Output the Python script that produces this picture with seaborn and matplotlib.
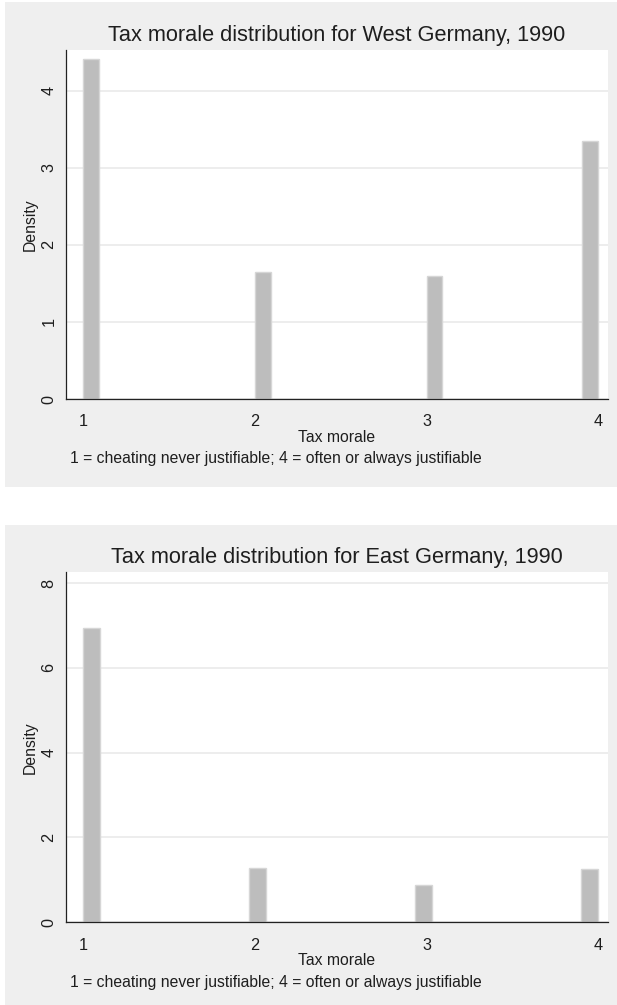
import numpy as np
import pandas as pd
import matplotlib
matplotlib.use("Agg")
import matplotlib.pyplot as plt
from matplotlib.patches import Rectangle
import seaborn as sns

# Tax morale scores (1 = never justifiable ... 4 = always justifiable)
scores = [1, 2, 3, 4]

# Histogram densities per score
west_density = [4.41, 1.65, 1.60, 3.35]
east_density = [6.95, 1.27, 0.87, 1.25]

# Histogram bin counts used for each sample
west_bins = 33
east_bins = 31

west_title = "Tax morale distribution for West Germany, 1990"
east_title = "Tax morale distribution for East Germany, 1990"
x_label = "Tax morale"
y_label = "Density"
note = "1 = cheating never justifiable; 4 = often or always justifiable"

west_yticks = [0, 1, 2, 3, 4]
east_yticks = [0, 2, 4, 6, 8]
xticks = [1, 2, 3, 4]

sns.set_style("white")
plt.rcParams["font.family"] = ["Liberation Sans", "DejaVu Sans"]

W, H = 617, 1005
fig = plt.figure(figsize=(W / 100, H / 100), dpi=100)
fig.patch.set_facecolor("white")

BG = "#efefef"
TXT = "#1e1e1e"
BAR_FACE = "#bdbdbd"
BAR_EDGE = "#d6d6d6"
GRID = "#ececec"


def fx(px):
    return px / W


def fy(py):
    return 1 - py / H


panels = [
    dict(title=west_title, dens=west_density, bins=west_bins, yticks=west_yticks,
         ylim=(0, 4.53), bg=(2, 487), plot=(50, 399)),
    dict(title=east_title, dens=east_density, bins=east_bins, yticks=east_yticks,
         ylim=(0, 8.25), bg=(525, 1005), plot=(572.5, 922.3)),
]

left_px, right_px = 66, 608

for p in panels:
    top_bg, bot_bg = p["bg"]
    fig.add_artist(Rectangle((fx(5), fy(bot_bg)), fx(W - 5), (bot_bg - top_bg) / H,
                             transform=fig.transFigure, facecolor=BG,
                             edgecolor="none", zorder=-5))
    ptop, pbot = p["plot"]
    ax = fig.add_axes([fx(left_px), fy(pbot), fx(right_px - left_px), (pbot - ptop) / H])
    ax.set_facecolor("white")

    df = pd.DataFrame({"score": scores, "density": p["dens"]})
    sns.histplot(data=df, x="score", weights="density", bins=p["bins"],
                 binrange=(1, 4), stat="count", ax=ax,
                 color=BAR_FACE, edgecolor=BAR_EDGE, linewidth=1.0, alpha=1.0,
                 zorder=2)

    ax.set_xlim(0.898, 4.058)
    ax.set_ylim(*p["ylim"])
    ax.set_xticks(xticks)
    ax.set_xticklabels([str(t) for t in xticks])
    ax.set_yticks(p["yticks"])
    ax.set_yticklabels([str(t) for t in p["yticks"]])

    ax.set_axisbelow(True)
    ax.yaxis.grid(True, color=GRID, linewidth=1.3)
    ax.xaxis.grid(False)

    for side in ("top", "right"):
        ax.spines[side].set_visible(False)
    for side in ("left", "bottom"):
        ax.spines[side].set_color("#222222")
        ax.spines[side].set_linewidth(0.9)

    ax.tick_params(axis="x", direction="out", length=5, width=0.9, color="#444444",
                   labelsize=11.7, labelcolor=TXT, pad=6.0)
    ax.tick_params(axis="y", direction="out", length=6.5, width=0.9, color="#444444",
                   labelsize=11.7, labelcolor=TXT, pad=0.5)
    for lab in ax.get_yticklabels():
        lab.set_rotation(90)
        lab.set_verticalalignment("center")
        lab.set_horizontalalignment("right")

    ax.set_xlabel("")
    ax.set_ylabel("")
    ax.set_title(p["title"], fontsize=15.7, color=TXT, pad=6.8)

    # axis titles and note
    fig.text(fx((left_px + right_px) / 2), fy(pbot + 42.7), x_label, fontsize=11.3,
             color=TXT, ha="center", va="baseline")
    fig.text(fx(70), fy(pbot + 64.3), note, fontsize=11.3, color=TXT,
             ha="left", va="baseline")
    fig.text(fx(35), fy((ptop + pbot) / 2), y_label, fontsize=11.3, color=TXT,
             rotation=90, rotation_mode="anchor", ha="center", va="baseline")

fig.savefig("out.png", dpi=100, facecolor=fig.get_facecolor())
